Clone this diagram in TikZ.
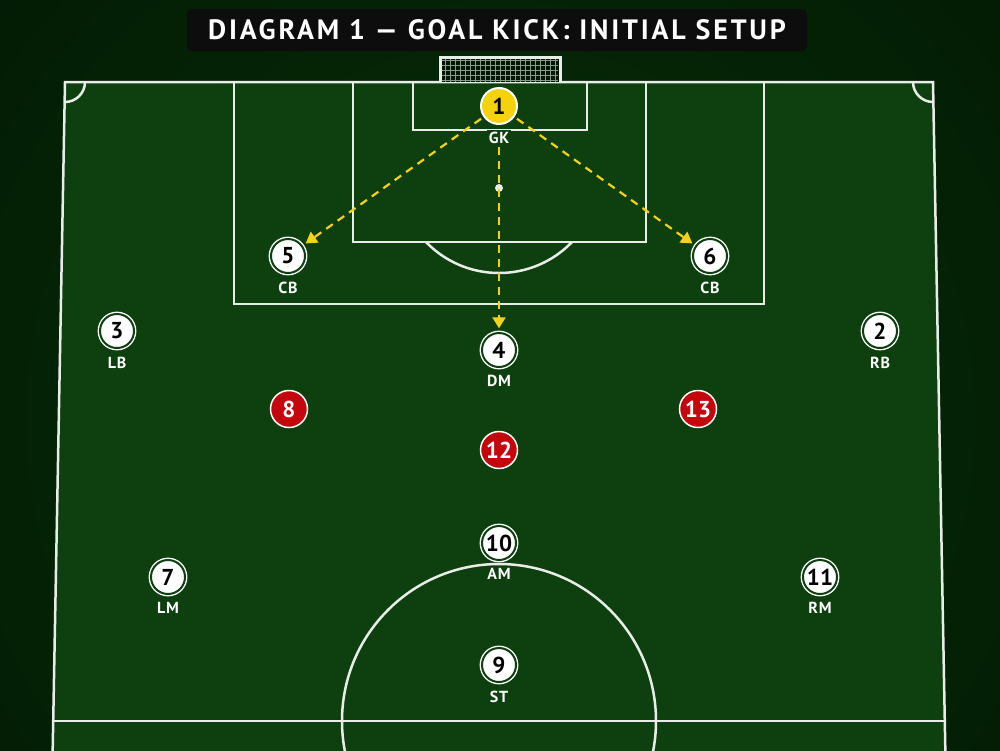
\documentclass[tikz,border=0pt]{standalone}
\usepackage{fontspec}
\setmainfont{PT Sans}
\newfontfamily\titlefont{PT Sans}[LetterSpace=10]
\newfontfamily\rolefont{PT Sans}[LetterSpace=5]
\usepackage{tikz}
\usetikzlibrary{positioning,arrows.meta}

\definecolor{bgdark}{HTML}{021A04}
\definecolor{bgmid}{HTML}{083009}
\definecolor{grass}{HTML}{0D3F0F}
\definecolor{chalk}{HTML}{E9ECE9}
\definecolor{gkyellow}{HTML}{F6D20A}
\definecolor{rivalred}{HTML}{C4070C}
\definecolor{passyellow}{HTML}{F4D21A}

\tikzset{
  chalkline/.style={draw=chalk, line width=2.5pt},
  player/.style={circle, fill=white, draw=white, double=grass, double distance=2pt, line width=1.4pt,
    minimum size=34pt, inner sep=0pt, text=black, font=\fontsize{23}{23}\selectfont\bfseries},
  keeper/.style={circle, fill=gkyellow, draw=white, line width=2pt, minimum size=36pt, inner sep=0pt,
    text=black, font=\fontsize{23}{23}\selectfont\bfseries},
  rival/.style={circle, fill=rivalred, draw=white, line width=1.5pt, minimum size=37pt, inner sep=0pt,
    text=white, font=\fontsize{23}{23}\selectfont\bfseries},
  role/.style={fill=grass, text=white, inner sep=2pt, font=\rolefont\fontsize{16}{16}\selectfont\bfseries},
  passarrow/.style={draw=passyellow, line width=2.2pt, dash pattern=on 8pt off 6pt,
    -{Triangle[length=11pt,width=13pt]}, shorten <=3pt, shorten >=4pt}
}

\begin{document}
\begin{tikzpicture}[x=1pt, y=-1pt]
        \useasboundingbox (0,0) rectangle (1000,750);
        \clip (0,0) rectangle (1000,750);

        % Background and pitch
        \fill[bgdark] (0,0) rectangle (1000,750);
        \shade[inner color=bgmid, outer color=bgdark] (500,420) circle (720pt);
        \fill[grass] (65,82) -- (933,82) -- (946,760) -- (52,760) -- cycle;
        \draw[chalkline] (52.5,760) -- (65,82) -- (933,82) -- (945.5,760);
        \draw[chalkline] (53.5,721) -- (944.5,721);
        \draw[chalkline] (499,721) circle (157pt);
        \draw[chalkline] (234,82) -- (234,304) -- (764,304) -- (764,82);
        \draw[chalkline] (353,82) -- (353,242) -- (646,242) -- (646,82);
        \draw[chalkline] (413,82) -- (413,130) -- (587,130) -- (587,82);
        \fill[chalk] (499,188) circle (4pt);
        \begin{scope}
            \clip (0,243) rectangle (1000,400);
            \draw[chalkline] (499,171.5) circle (101.5pt);
        \end{scope}
        \begin{scope}
            \clip (65,82) rectangle (100,117);
            \draw[chalkline] (65,82) circle (20pt);
        \end{scope}
        \begin{scope}
            \clip (898,82) rectangle (933,117);
            \draw[chalkline] (933,82) circle (20pt);
        \end{scope}

        % Goal and net
        \fill[black!70!grass] (440,57) rectangle (560,82);
        \draw[white!50!grass, line width=0.5pt, step=5pt] (442,59) grid (558,82);
        \draw[chalk, line width=3pt] (440,82) -- (440,57) -- (560,57) -- (560,82);

        % Title
        \fill[black!95, rounded corners=5pt] (187,9) rectangle (807,51);
        \node[text=white, font=\titlefont\fontsize{28}{28}\selectfont\bfseries] (title) at (497,30)
            {DIAGRAM 1 — GOAL KICK: INITIAL SETUP};

        % Players
        \node[keeper] (gk) at (499,106) {1};
        \node[player] (cb5) at (288,256) {5};
        \node[player] (cb6) at (710,256) {6};
        \node[player] (lb) at (117,331) {3};
        \node[player] (rb) at (880,331) {2};
        \node[player] (dm) at (499,350) {4};
        \node[player] (am) at (499,543) {10};
        \node[player] (lm) at (168,577) {7};
        \node[player] (rm) at (820,577) {11};
        \node[player] (st) at (499,665) {9};
        \node[rival] (r8) at (289,409) {8};
        \node[rival] (r13) at (698,409) {13};
        \node[rival] (r12) at (499,450) {12};

        % Role labels
        \node[role, below=5pt of gk] (gkl) {GK};
        \node[role, below=6pt of cb5] (cb5l) {CB};
        \node[role, below=6pt of cb6] (cb6l) {CB};
        \node[role, below=6pt of lb] (lbl) {LB};
        \node[role, below=6pt of rb] (rbl) {RB};
        \node[role, below=5pt of dm] (dml) {DM};
        \node[role, below=5pt of am] (aml) {AM};
        \node[role, below=5pt of lm] (lml) {LM};
        \node[role, below=5pt of rm] (rml) {RM};
        \node[role, below=6pt of st] (stl) {ST};

        % Goal kick passes
        \draw[passarrow] (gk) -- (cb5);
        \draw[passarrow] (gk) -- (cb6);
        \draw[passarrow, shorten <=1pt] (gkl) -- (dm);
    \end{tikzpicture}
\end{document}
